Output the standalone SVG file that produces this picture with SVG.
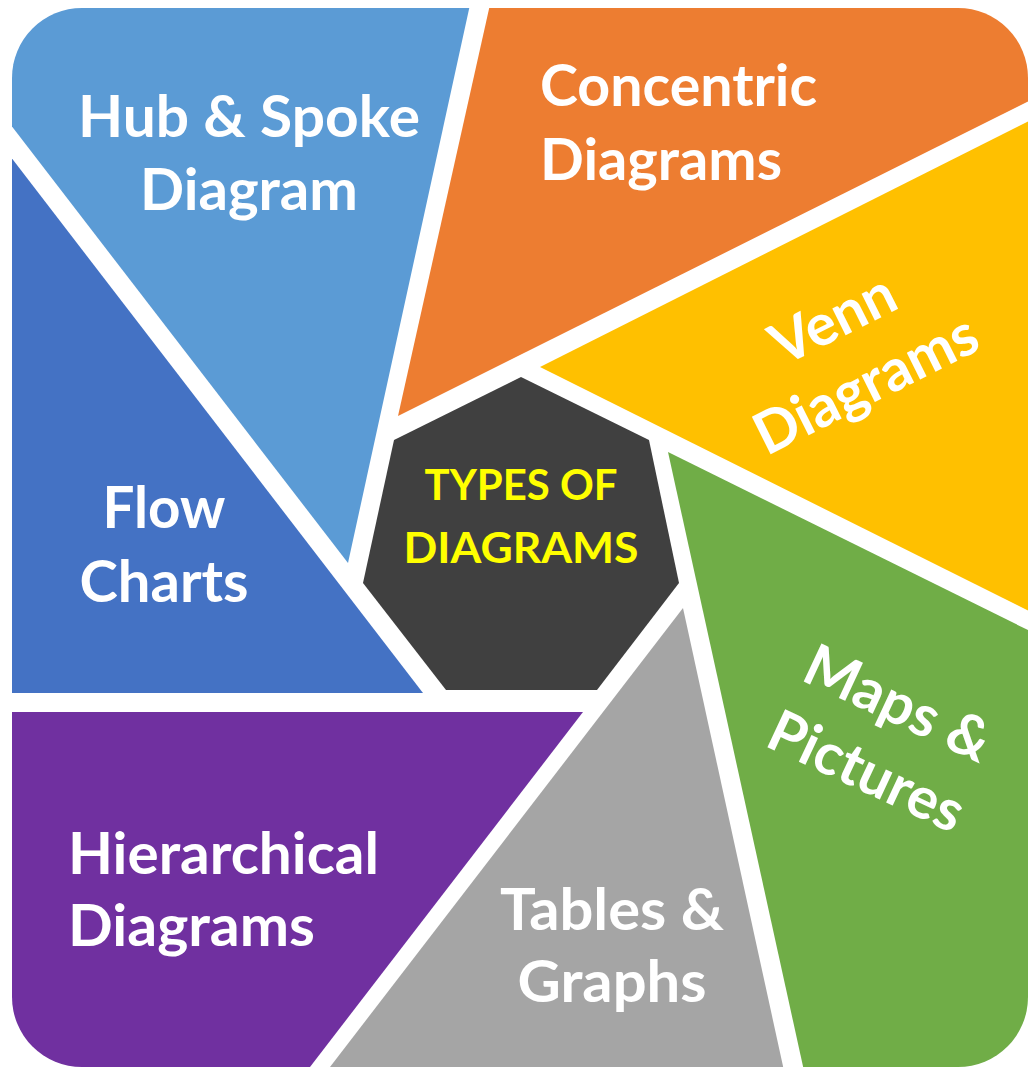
<svg xmlns="http://www.w3.org/2000/svg" width="1035" height="1078" viewBox="0 0 1035 1078">
  <defs>
    <clipPath id="frame">
      <rect x="12" y="8" width="1016" height="1059" rx="70" ry="70"/>
    </clipPath>
    <style>
      .lbl { font-family: Lato, "Open Sans", "Liberation Sans", sans-serif; font-weight: 700; font-size: 58px; fill: #FFFFFF; }
      .ctr { font-family: Lato, "Open Sans", "Liberation Sans", sans-serif; font-weight: 700; font-size: 42px; fill: #FFFF00; text-anchor: middle; }
      .mid { text-anchor: middle; }
    </style>
  </defs>
  <rect x="0" y="0" width="1035" height="1078" fill="#FFFFFF"/>
  <g clip-path="url(#frame)">
    <g id="hub-spoke">
      <polygon points="0,0 471,0 348,563 0,111" fill="#5B9BD5"/>
      <text class="lbl mid" x="249" y="137" textLength="342" lengthAdjust="spacingAndGlyphs">Hub &amp; Spoke</text>
      <text class="lbl mid" x="249" y="210" textLength="218" lengthAdjust="spacingAndGlyphs">Diagram</text>
    </g>
    <g id="concentric">
      <polygon points="491,0 1040,0 1040,95.5 398,416" fill="#ED7D31"/>
      <text class="lbl" x="540" y="106" textLength="277" lengthAdjust="spacingAndGlyphs">Concentric</text>
      <text class="lbl" x="540" y="180" textLength="242" lengthAdjust="spacingAndGlyphs">Diagrams</text>
    </g>
    <g id="venn">
      <polygon points="540,367 1040,115.5 1040,616.5" fill="#FFC000"/>
      <g transform="translate(850,353) rotate(-26.57)">
        <text class="lbl mid" x="0" y="-18" textLength="132" lengthAdjust="spacingAndGlyphs">Venn</text>
        <text class="lbl mid" x="0" y="55" textLength="242" lengthAdjust="spacingAndGlyphs">Diagrams</text>
      </g>
    </g>
    <g id="maps-pictures">
      <polygon points="668,452 1040,636 1040,1080 806,1080" fill="#70AD47"/>
      <g transform="translate(874,755) rotate(25)">
        <text class="lbl mid" x="0" y="-37" textLength="199" lengthAdjust="spacingAndGlyphs">Maps &amp;</text>
        <text class="lbl mid" x="0" y="38" textLength="209" lengthAdjust="spacingAndGlyphs">Pictures</text>
      </g>
    </g>
    <g id="tables-graphs">
      <polygon points="683,608 786,1080 320,1080" fill="#A5A5A5"/>
      <text class="lbl mid" x="612" y="930" textLength="224" lengthAdjust="spacingAndGlyphs">Tables &amp;</text>
      <text class="lbl mid" x="612" y="1002" textLength="189" lengthAdjust="spacingAndGlyphs">Graphs</text>
    </g>
    <g id="hierarchical">
      <polygon points="0,712 583,712 300,1080 0,1080" fill="#7030A0"/>
      <text class="lbl" x="68" y="874" textLength="311" lengthAdjust="spacingAndGlyphs">Hierarchical</text>
      <text class="lbl" x="68" y="946" textLength="247" lengthAdjust="spacingAndGlyphs">Diagrams</text>
    </g>
    <g id="flow-charts">
      <polygon points="0,143 423,693 0,693" fill="#4472C4"/>
      <text class="lbl mid" x="164" y="528" textLength="123" lengthAdjust="spacingAndGlyphs">Flow</text>
      <text class="lbl mid" x="164" y="602" textLength="169" lengthAdjust="spacingAndGlyphs">Charts</text>
    </g>
  </g>
  <g id="types-of-diagrams">
    <polygon points="521,377 649,440 679,583 597,690 446,690 363,583 394,440" fill="#404040"/>
    <text class="ctr" x="521" y="500" textLength="193" lengthAdjust="spacingAndGlyphs">TYPES OF</text>
    <text class="ctr" x="521" y="563" textLength="235" lengthAdjust="spacingAndGlyphs">DIAGRAMS</text>
  </g>
</svg>
